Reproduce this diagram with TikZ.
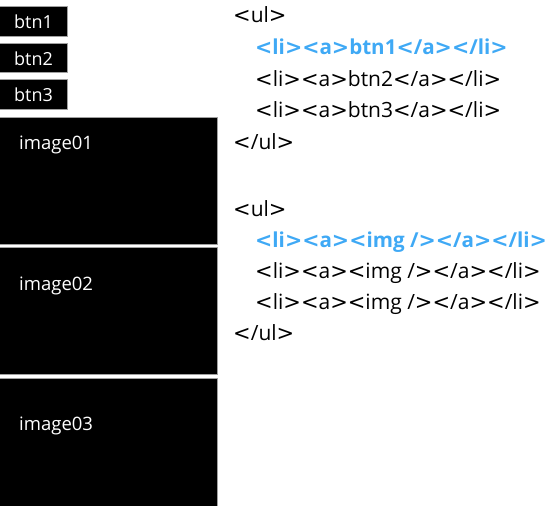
\documentclass[tikz,border=0pt]{standalone}
\usepackage{fontspec}
\setmainfont{Open Sans}
\newfontfamily\dvfont{DejaVu Sans}
\newcommand{\LT}{{\dvfont<}}
\newcommand{\GT}{{\dvfont>}}
\definecolor{hl}{HTML}{3FA9F5}
\definecolor{edge}{HTML}{A0A0A0}
\begin{document}
\begin{tikzpicture}[x=1pt,y=-1pt,
  blk/.style={fill=black,draw=edge,line width=0.8pt},
  lbl/.style={text=white,inner sep=0pt,anchor=base west},
  btnlbl/.style={lbl,font=\fontsize{18}{18}\selectfont},
  imglbl/.style={lbl,font=\fontsize{18.5}{18.5}\selectfont},
  code/.style={inner sep=0pt,anchor=base west,font=\fontsize{21}{21}\selectfont},
  codehl/.style={code,text=hl,font=\fontsize{20.6}{20.6}\selectfont\bfseries}]
\useasboundingbox (0,0) rectangle (550,506);
% buttons
\draw[blk] (-1,6) rectangle (67,36);
\draw[blk] (-1,43) rectangle (67,72);
\draw[blk] (-1,79) rectangle (67,109);
\node[btnlbl] (b1) at (14,28) {btn1};
\node[btnlbl] (b2) at (14,65) {btn2};
\node[btnlbl] (b3) at (14,101) {btn3};
% images
\draw[blk] (-1,117) rectangle (217,244);
\draw[blk] (-1,247) rectangle (217,374);
\draw[blk] (-1,378) rectangle (217,507);
\node[imglbl] (i1) at (19,149) {image01};
\node[imglbl] (i2) at (19,290) {image02};
\node[imglbl] (i3) at (19,430) {image03};
% code block 1
\node[code] (c11) at (233,23) {\LT ul\GT};
\node[codehl] (c12) at (255,54) {\LT li\GT\LT a\GT btn1\LT/a\GT\LT/li\GT};
\node[code] (c13) at (255,86) {\LT li\GT\LT a\GT btn2\LT/a\GT\LT/li\GT};
\node[code] (c14) at (255,117) {\LT li\GT\LT a\GT btn3\LT/a\GT\LT/li\GT};
\node[code] (c15) at (233,149) {\LT/ul\GT};
% code block 2
\node[code] (c21) at (233,216) {\LT ul\GT};
\node[codehl] (c22) at (255,247) {\LT li\GT\LT a\GT\LT img /\GT\LT/a\GT\LT/li\GT};
\node[code] (c23) at (255,278) {\LT li\GT\LT a\GT\LT img /\GT\LT/a\GT\LT/li\GT};
\node[code] (c24) at (255,309) {\LT li\GT\LT a\GT\LT img /\GT\LT/a\GT\LT/li\GT};
\node[code] (c25) at (233,340) {\LT/ul\GT};
\end{tikzpicture}
\end{document}
